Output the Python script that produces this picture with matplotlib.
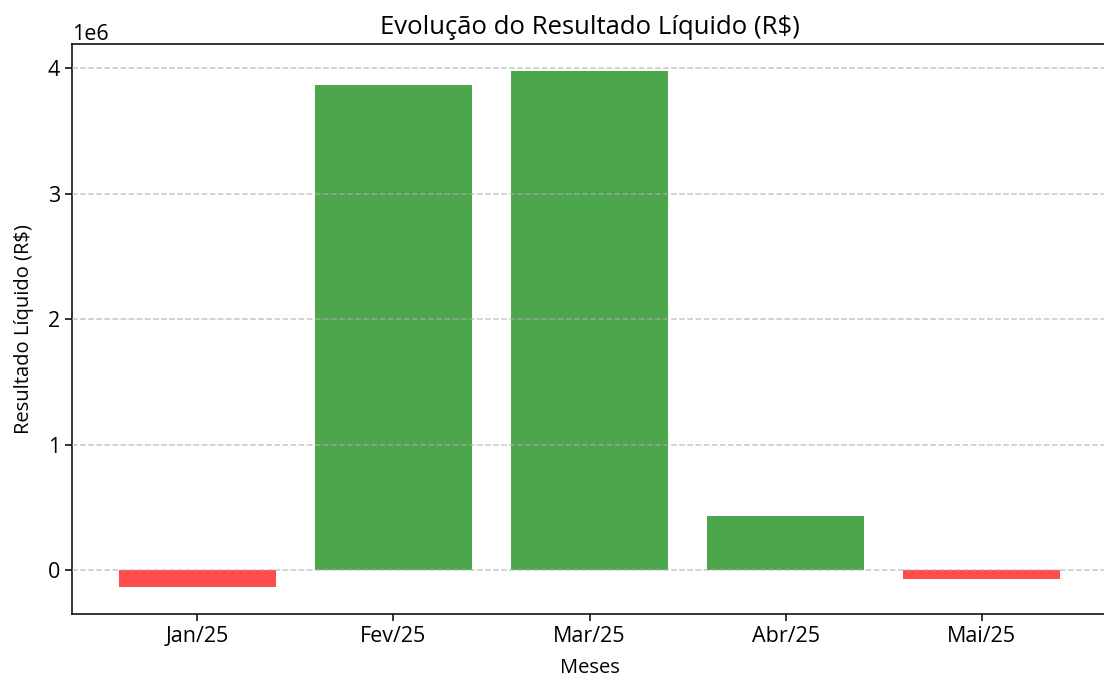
import matplotlib
matplotlib.use("Agg")
import matplotlib.pyplot as plt

meses = ["Jan/25", "Fev/25", "Mar/25", "Abr/25", "Mai/25"]
resultado = [-133000, 3868000, 3982000, 433000, -72000]

plt.rcParams['font.family'] = ['Open Sans', 'DejaVu Sans']

W, H = 1104, 679
fig = plt.figure(figsize=(W / 100, H / 100), dpi=100)
ax = fig.add_axes([72 / W, (H - 614) / H, (1107 - 72) / W, (614 - 44) / H])

colors = ['green' if v >= 0 else 'red' for v in resultado]
ax.bar(meses, resultado, color=colors, alpha=0.7, width=0.8)
ax.set_ylim(-0.351e6, 4.195e6)

ax.set_title("Evolução do Resultado Líquido (R$)", fontsize=18.5, pad=7)
ax.set_xlabel("Meses", fontsize=14.5, labelpad=8)
ax.set_ylabel("Resultado Líquido (R$)", fontsize=14.5, labelpad=10)
ax.tick_params(axis='both', labelsize=15.5, length=4.7, width=1.1, pad=4)
ax.yaxis.get_offset_text().set_fontsize(15.5)
ax.grid(axis='y', linestyle='--', alpha=0.7, linewidth=1.1)
ax.set_axisbelow(False)
for s in ax.spines.values():
    s.set_linewidth(1.1)

fig.savefig("out.png", dpi=100)
